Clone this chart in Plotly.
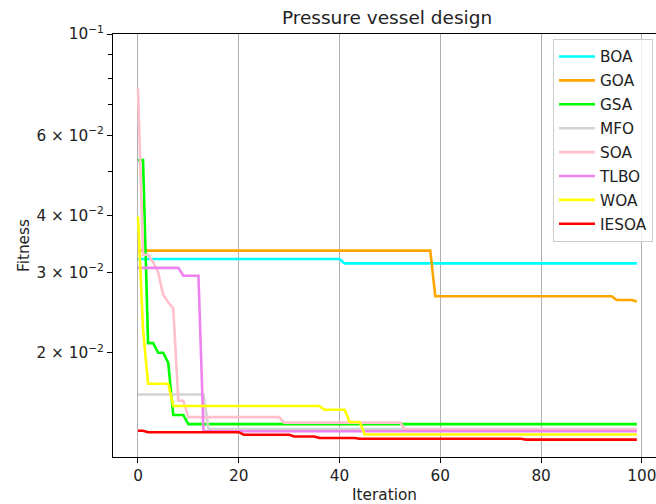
import plotly.graph_objects as go

iterations = list(range(100))

BOA = [0.0321] * 41 + [0.0314] * 59
GOA = [0.0335] * 59 + [0.0266] * 36 + [0.0261] * 4 + [0.0259] * 1
GSA = [0.0529, 0.0529, 0.0210, 0.0210, 0.0200, 0.0200, 0.0190, 0.0146, 0.0146, 0.0146] + [0.01395] * 90
MFO = [0.0162] * 14 + [0.0136] * 86
SOA = ([0.0760, 0.0328, 0.0328, 0.0316, 0.0300, 0.0268, 0.0258, 0.0250, 0.0157, 0.0157]
       + [0.01445] * 19 + [0.01405] * 24 + [0.01358] * 47)
TLBO = [0.0307] * 9 + [0.0295] * 4 + [0.01345] * 87
WOA = [0.0398, 0.0225] + [0.0171] * 5 + [0.01528] * 30 + [0.0150] * 5 + [0.0141] * 3 + [0.01324] * 55
IESOA = ([0.01349] * 2 + [0.01339] * 19 + [0.01322] * 10 + [0.01310] * 5
         + [0.01300] * 8 + [0.01295] * 33 + [0.01290] * 23)

series_names = ["BOA", "GOA", "GSA", "MFO", "SOA", "TLBO", "WOA", "IESOA"]
series_values = [BOA, GOA, GSA, MFO, SOA, TLBO, WOA, IESOA]
series_colors = ["#00ffff", "#ffa500", "#00ff00", "#d3d3d3", "#ffc0cb", "#ee82ee", "#ffff00", "#ff0000"]

y_tick_vals = [0.02, 0.03, 0.04, 0.06, 0.1]
y_tick_text = ["2 × 10<sup>−2</sup>", "3 × 10<sup>−2</sup>", "4 × 10<sup>−2</sup>",
               "6 × 10<sup>−2</sup>", "10<sup>−1</sup>"]
y_minor_vals = [0.05, 0.07, 0.08, 0.09]
x_tick_vals = [0, 20, 40, 60, 80, 100]

font_family = "DejaVu Sans"

fig = go.Figure()
for name, vals, col in zip(series_names, series_values, series_colors):
    fig.add_trace(go.Scatter(x=iterations, y=vals, mode="lines", name=name,
                             legendgroup=name,
                             line=dict(color=col, width=2.6)))

fig.update_layout(
    width=656, height=504,
    margin=dict(l=113, r=0, t=34, b=47),
    paper_bgcolor="white", plot_bgcolor="white",
    font=dict(family=font_family, size=15.3, color="#222222"),
    title=dict(text="Pressure vessel design", x=0.59, xanchor="center",
               y=0.966, yanchor="middle", font=dict(size=18.5, color="#222222")),
    showlegend=True,
    legend=dict(x=0.9945, xanchor="right", y=0.988, yanchor="top",
                bgcolor="rgba(255,255,255,0.8)", bordercolor="#cccccc", borderwidth=1,
                font=dict(size=15.3, color="#222222"), tracegroupgap=1,
                itemwidth=36),
    xaxis=dict(range=[-4.96, 102.8], tickvals=x_tick_vals,
               showgrid=True, gridcolor="#b0b0b0", gridwidth=1,
               zeroline=False, showline=True, linecolor="black", linewidth=1,
               mirror=True, ticks="outside", ticklen=5, tickcolor="black",
               ticklabeloverflow="allow",
               title=dict(text="Iteration", standoff=8, font=dict(size=15.3))),
    yaxis=dict(type="log", range=[-1.9276, -1.0], tickmode="array",
               tickvals=y_tick_vals, ticktext=y_tick_text,
               showgrid=False, zeroline=False, showline=True, linecolor="black",
               linewidth=1, mirror=False, ticks="outside", ticklen=5, tickcolor="black",
               minor=dict(tickmode="array", tickvals=y_minor_vals, ticks="outside",
                          ticklen=4, tickcolor="black", showgrid=False),
               title=dict(text="Fitness", standoff=3, font=dict(size=15.3))),
)

fig.write_html("out.html")
